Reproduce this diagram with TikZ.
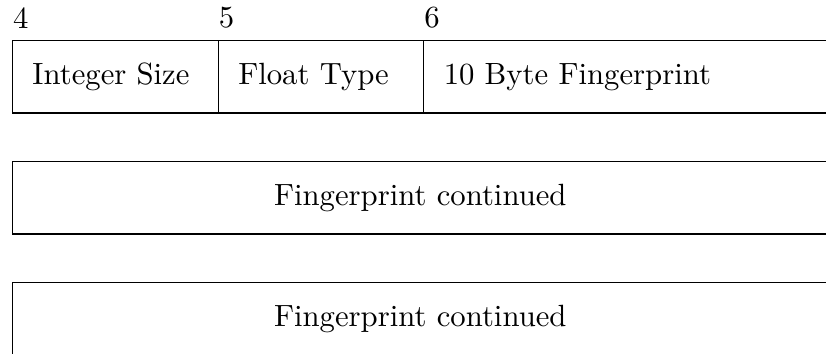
\documentclass[tikz,border=0pt]{standalone}
\usetikzlibrary{positioning}

\begin{document}
\begin{tikzpicture}[
    fieldBox/.style={draw, rectangle, minimum height=23.5pt, inner xsep=6.5pt, inner ysep=0pt, outer sep=0pt, align=left}, % one field of the header
    wideBox/.style={draw, rectangle, minimum height=23.5pt, minimum width=265.5pt, inner sep=0pt, outer sep=0pt}, % full-width continuation row
    byteIdx/.style={inner sep=0pt}, % byte offset above a field
]
    % 0. canvas
    \useasboundingbox (0,0) rectangle (268.9pt,-115.2pt);
    \clip (0,0) rectangle (268.9pt,-115.2pt);

    % 1. first row: three fields side by side
    \node[fieldBox, text width=54pt, anchor=north west] (intSize) at (4.07pt,-13.25pt) {Integer Size};
    \node[fieldBox, text width=53.9pt, right=0pt of intSize] (floatType) {Float Type};
    \node[fieldBox, text width=119pt, right=0pt of floatType] (fingerprint) {10 Byte Fingerprint};

    % 2. byte offsets
    \node[byteIdx, above right=3.8pt and 0pt of intSize.north west] (off4) {4};
    \node[byteIdx, above right=3.8pt and 0pt of floatType.north west] (off5) {5};
    \node[byteIdx, above right=3.8pt and 0pt of fingerprint.north west] (off6) {6};

    % 3. continuation rows
    \node[wideBox, below right=15.9pt and 0pt of intSize.south west] (cont1) {Fingerprint continued};
    \node[wideBox, below right=15.9pt and 0pt of cont1.south west] (cont2) {Fingerprint continued};
\end{tikzpicture}
\end{document}
